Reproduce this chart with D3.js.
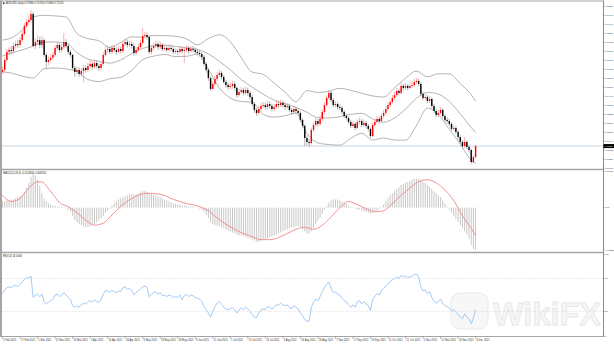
<!DOCTYPE html>
<html>
<head>
<meta charset="utf-8">
<script src="https://cdn.jsdelivr.net/npm/d3@7"></script>
<style>
  html, body { margin: 0; padding: 0; background: #fff; }
  svg { display: block; font-family: "Liberation Sans", Arial, sans-serif; }
</style>
</head>
<body>
<div id="plot"></div>
<script>
// daily candles, AUDUSD
const open = [0.7600,0.7612,0.7678,0.7731,0.7744,0.7737,0.7770,0.7783,0.7777,0.7809,
  0.7849,0.7902,0.7928,0.7941,0.7981,0.7770,0.7796,0.7809,0.7777,0.7809,
  0.7711,0.7665,0.7678,0.7692,0.7711,0.7757,0.7777,0.7744,0.7763,0.7796,
  0.7770,0.7731,0.7711,0.7625,0.7599,0.7612,0.7586,0.7605,0.7625,0.7612,
  0.7638,0.7652,0.7632,0.7658,0.7638,0.7625,0.7652,0.7711,0.7744,0.7750,
  0.7731,0.7757,0.7744,0.7731,0.7750,0.7737,0.7783,0.7796,0.7777,0.7783,
  0.7770,0.7724,0.7744,0.7763,0.7790,0.7836,0.7842,0.7829,0.7731,0.7757,
  0.7770,0.7783,0.7763,0.7777,0.7750,0.7757,0.7744,0.7757,0.7750,0.7731,
  0.7737,0.7731,0.7750,0.7737,0.7744,0.7757,0.7737,0.7750,0.7744,0.7731,
  0.7724,0.7717,0.7698,0.7652,0.7612,0.7559,0.7487,0.7520,0.7553,0.7579,
  0.7592,0.7566,0.7533,0.7513,0.7500,0.7507,0.7520,0.7494,0.7447,0.7467,
  0.7480,0.7461,0.7480,0.7461,0.7434,0.7388,0.7349,0.7329,0.7355,0.7375,
  0.7381,0.7368,0.7388,0.7375,0.7355,0.7368,0.7388,0.7381,0.7395,0.7381,
  0.7368,0.7375,0.7349,0.7336,0.7355,0.7342,0.7329,0.7283,0.7244,0.7164,
  0.7138,0.7131,0.7217,0.7250,0.7276,0.7257,0.7290,0.7336,0.7381,0.7428,
  0.7461,0.7414,0.7381,0.7388,0.7368,0.7362,0.7336,0.7309,0.7296,0.7270,
  0.7244,0.7257,0.7230,0.7270,0.7276,0.7250,0.7263,0.7244,0.7224,0.7177,
  0.7250,0.7270,0.7290,0.7276,0.7309,0.7329,0.7355,0.7381,0.7401,0.7428,
  0.7447,0.7474,0.7461,0.7507,0.7494,0.7507,0.7494,0.7507,0.7513,0.7533,
  0.7540,0.7520,0.7454,0.7428,0.7434,0.7408,0.7421,0.7375,0.7342,0.7316,
  0.7329,0.7349,0.7309,0.7283,0.7276,0.7257,0.7224,0.7230,0.7204,0.7170,
  0.7138,0.7111,0.7138,0.7105,0.7085,0.7006,0.7039];
const high = [0.7635,0.7695,0.7750,0.7765,0.7770,0.7790,0.7805,0.7810,0.7830,0.7865,
  0.7920,0.7950,0.7965,0.8007,0.7995,0.7820,0.7840,0.7830,0.7835,0.7820,
  0.7725,0.7700,0.7715,0.7730,0.7775,0.7800,0.7790,0.7785,0.7856,0.7815,
  0.7785,0.7745,0.7720,0.7640,0.7635,0.7630,0.7625,0.7645,0.7640,0.7660,
  0.7675,0.7668,0.7680,0.7675,0.7655,0.7670,0.7730,0.7765,0.7775,0.7765,
  0.7780,0.7775,0.7760,0.7770,0.7768,0.7800,0.7818,0.7812,0.7805,0.7800,
  0.7785,0.7765,0.7785,0.7810,0.7891,0.7865,0.7858,0.7840,0.7778,0.7792,
  0.7805,0.7798,0.7800,0.7790,0.7780,0.7772,0.7775,0.7778,0.7762,0.7755,
  0.7752,0.7770,0.7765,0.7762,0.7775,0.7770,0.7768,0.7770,0.7760,0.7750,
  0.7742,0.7730,0.7710,0.7665,0.7625,0.7570,0.7540,0.7572,0.7598,0.7615,
  0.7605,0.7580,0.7548,0.7530,0.7528,0.7540,0.7535,0.7505,0.7488,0.7500,
  0.7495,0.7502,0.7495,0.7475,0.7448,0.7400,0.7362,0.7375,0.7395,0.7402,
  0.7398,0.7410,0.7405,0.7390,0.7388,0.7410,0.7405,0.7418,0.7410,0.7398,
  0.7395,0.7390,0.7362,0.7375,0.7370,0.7358,0.7340,0.7295,0.7255,0.7180,
  0.7160,0.7232,0.7268,0.7295,0.7290,0.7310,0.7352,0.7398,0.7445,0.7480,
  0.7472,0.7428,0.7408,0.7400,0.7385,0.7375,0.7348,0.7325,0.7308,0.7282,
  0.7278,0.7270,0.7288,0.7298,0.7290,0.7285,0.7278,0.7258,0.7235,0.7265,
  0.7290,0.7310,0.7305,0.7328,0.7348,0.7375,0.7400,0.7420,0.7448,0.7468,
  0.7495,0.7490,0.7528,0.7522,0.7530,0.7520,0.7528,0.7535,0.7556,0.7560,
  0.7555,0.7530,0.7468,0.7455,0.7448,0.7440,0.7432,0.7388,0.7355,0.7348,
  0.7368,0.7360,0.7320,0.7298,0.7290,0.7270,0.7248,0.7242,0.7215,0.7182,
  0.7150,0.7170,0.7150,0.7118,0.7095,0.7055,0.7120];
const low = [0.7585,0.7600,0.7665,0.7712,0.7715,0.7720,0.7752,0.7755,0.7760,0.7795,
  0.7835,0.7885,0.7905,0.7925,0.7760,0.7750,0.7775,0.7755,0.7760,0.7700,
  0.7625,0.7645,0.7660,0.7675,0.7700,0.7740,0.7725,0.7730,0.7750,0.7755,
  0.7715,0.7695,0.7610,0.7566,0.7580,0.7565,0.7570,0.7533,0.7595,0.7600,
  0.7620,0.7615,0.7618,0.7622,0.7605,0.7610,0.7640,0.7700,0.7725,0.7715,
  0.7720,0.7728,0.7712,0.7718,0.7720,0.7725,0.7770,0.7760,0.7762,0.7752,
  0.7705,0.7710,0.7730,0.7750,0.7778,0.7820,0.7812,0.7718,0.7715,0.7740,
  0.7758,0.7745,0.7748,0.7735,0.7738,0.7728,0.7732,0.7735,0.7715,0.7718,
  0.7712,0.7720,0.7722,0.7658,0.7730,0.7720,0.7725,0.7728,0.7715,0.7708,
  0.7700,0.7680,0.7640,0.7595,0.7540,0.7474,0.7478,0.7508,0.7540,0.7565,
  0.7550,0.7520,0.7495,0.7482,0.7485,0.7490,0.7478,0.7430,0.7435,0.7452,
  0.7445,0.7448,0.7442,0.7418,0.7372,0.7330,0.7310,0.7315,0.7340,0.7360,
  0.7350,0.7352,0.7358,0.7340,0.7340,0.7355,0.7362,0.7368,0.7365,0.7350,
  0.7352,0.7335,0.7318,0.7322,0.7325,0.7312,0.7268,0.7228,0.7111,0.7115,
  0.7105,0.7120,0.7205,0.7238,0.7240,0.7245,0.7278,0.7325,0.7370,0.7415,
  0.7400,0.7365,0.7368,0.7350,0.7345,0.7320,0.7295,0.7280,0.7255,0.7228,
  0.7232,0.7215,0.7220,0.7255,0.7235,0.7238,0.7228,0.7208,0.7164,0.7170,
  0.7238,0.7258,0.7260,0.7265,0.7295,0.7318,0.7345,0.7368,0.7390,0.7415,
  0.7435,0.7445,0.7450,0.7478,0.7482,0.7478,0.7485,0.7492,0.7500,0.7520,
  0.7505,0.7440,0.7412,0.7415,0.7392,0.7395,0.7360,0.7328,0.7300,0.7302,
  0.7318,0.7295,0.7268,0.7260,0.7240,0.7210,0.7212,0.7190,0.7155,0.7122,
  0.7095,0.7100,0.7090,0.7068,0.6993,0.6998,0.7030];
const close = [0.7612,0.7678,0.7731,0.7744,0.7737,0.7770,0.7783,0.7777,0.7809,0.7849,
  0.7902,0.7928,0.7941,0.7981,0.7770,0.7796,0.7809,0.7777,0.7809,0.7711,
  0.7665,0.7678,0.7692,0.7711,0.7757,0.7777,0.7744,0.7763,0.7796,0.7770,
  0.7731,0.7711,0.7625,0.7599,0.7612,0.7586,0.7605,0.7625,0.7612,0.7638,
  0.7652,0.7632,0.7658,0.7638,0.7625,0.7652,0.7711,0.7744,0.7750,0.7731,
  0.7757,0.7744,0.7731,0.7750,0.7737,0.7783,0.7796,0.7777,0.7783,0.7770,
  0.7724,0.7744,0.7763,0.7790,0.7836,0.7842,0.7829,0.7731,0.7757,0.7770,
  0.7783,0.7763,0.7777,0.7750,0.7757,0.7744,0.7757,0.7750,0.7731,0.7737,
  0.7731,0.7750,0.7737,0.7744,0.7757,0.7737,0.7750,0.7744,0.7731,0.7724,
  0.7717,0.7698,0.7652,0.7612,0.7559,0.7487,0.7520,0.7553,0.7579,0.7592,
  0.7566,0.7533,0.7513,0.7500,0.7507,0.7520,0.7494,0.7447,0.7467,0.7480,
  0.7461,0.7480,0.7461,0.7434,0.7388,0.7349,0.7329,0.7355,0.7375,0.7381,
  0.7368,0.7388,0.7375,0.7355,0.7368,0.7388,0.7381,0.7395,0.7381,0.7368,
  0.7375,0.7349,0.7336,0.7355,0.7342,0.7329,0.7283,0.7244,0.7164,0.7138,
  0.7131,0.7217,0.7250,0.7276,0.7257,0.7290,0.7336,0.7381,0.7428,0.7461,
  0.7414,0.7381,0.7388,0.7368,0.7362,0.7336,0.7309,0.7296,0.7270,0.7244,
  0.7257,0.7230,0.7270,0.7276,0.7250,0.7263,0.7244,0.7224,0.7177,0.7250,
  0.7270,0.7290,0.7276,0.7309,0.7329,0.7355,0.7381,0.7401,0.7428,0.7447,
  0.7474,0.7461,0.7507,0.7494,0.7507,0.7494,0.7507,0.7513,0.7533,0.7540,
  0.7520,0.7454,0.7428,0.7434,0.7408,0.7421,0.7375,0.7342,0.7316,0.7329,
  0.7349,0.7309,0.7283,0.7276,0.7257,0.7224,0.7230,0.7204,0.7170,0.7138,
  0.7111,0.7138,0.7105,0.7085,0.7006,0.7039,0.7111];

// Bollinger bands (20, 2), read at these bars
const bbBars = [0,4,9,14,19,24,29,34,39,44,49,54,59,64,69,74,79,84,89,94,99,104,109,114,119,124,129,134,139,144,149,154,159,164,169,174,179,184,189,194,199,204,209,214,216];
const bbUpper = [0.7809,0.7823,0.7875,0.7961,0.7972,0.7968,0.7961,0.7852,0.7819,0.7804,0.7760,0.7793,0.7831,0.7827,0.7839,0.7838,0.7834,0.7817,0.7778,0.7819,0.7844,0.7799,0.7694,0.7598,0.7584,0.7526,0.7466,0.7403,0.7476,0.7464,0.7472,0.7491,0.7478,0.7459,0.7441,0.7434,0.7494,0.7558,0.7605,0.7567,0.7587,0.7586,0.7522,0.7449,0.7407];
const bbMiddle = [0.7704,0.7724,0.7744,0.7770,0.7796,0.7796,0.7789,0.7727,0.7684,0.7670,0.7657,0.7679,0.7721,0.7754,0.7771,0.7776,0.7767,0.7759,0.7748,0.7718,0.7669,0.7613,0.7549,0.7499,0.7452,0.7414,0.7389,0.7366,0.7334,0.7298,0.7296,0.7304,0.7320,0.7327,0.7290,0.7268,0.7296,0.7354,0.7426,0.7464,0.7453,0.7404,0.7323,0.7233,0.7201];
const bbLower = [0.7599,0.7592,0.7572,0.7559,0.7620,0.7625,0.7619,0.7601,0.7550,0.7536,0.7554,0.7564,0.7610,0.7680,0.7703,0.7714,0.7700,0.7702,0.7717,0.7617,0.7493,0.7428,0.7405,0.7400,0.7320,0.7302,0.7311,0.7329,0.7193,0.7132,0.7121,0.7117,0.7162,0.7195,0.7151,0.7164,0.7151,0.7150,0.7246,0.7361,0.7318,0.7222,0.7124,0.7017,0.6996];

// MACD (12,26,9): main histogram per bar, signal read at these bars
const macdMain = [0.0018,0.0018,0.0021,0.0021,0.0024,0.0024,0.0027,0.0030,0.0033,0.0036,
  0.0045,0.0057,0.0072,0.0090,0.0105,0.0093,0.0081,0.0063,0.0042,0.0027,
  0.0018,0.0012,0.0009,0.0006,0.0006,0.0003,0.0003,0.0003,0.0001,-0.0001,
  -0.0006,-0.0012,-0.0024,-0.0036,-0.0042,-0.0048,-0.0051,-0.0054,-0.0057,-0.0057,
  -0.0054,-0.0051,-0.0048,-0.0042,-0.0036,-0.0030,-0.0024,-0.0015,-0.0009,-0.0003,
  0.0006,0.0012,0.0018,0.0024,0.0027,0.0030,0.0033,0.0036,0.0039,0.0039,
  0.0039,0.0039,0.0042,0.0045,0.0048,0.0048,0.0045,0.0042,0.0042,0.0039,
  0.0036,0.0033,0.0030,0.0027,0.0024,0.0021,0.0018,0.0015,0.0012,0.0012,
  0.0009,0.0009,0.0006,0.0006,0.0006,0.0003,0.0003,0.0003,0.0001,-0.0001,
  -0.0003,-0.0006,-0.0012,-0.0021,-0.0030,-0.0042,-0.0048,-0.0051,-0.0054,-0.0054,
  -0.0057,-0.0060,-0.0063,-0.0066,-0.0069,-0.0072,-0.0075,-0.0078,-0.0081,-0.0081,
  -0.0084,-0.0084,-0.0087,-0.0090,-0.0093,-0.0096,-0.0099,-0.0099,-0.0096,-0.0093,
  -0.0093,-0.0090,-0.0087,-0.0084,-0.0081,-0.0078,-0.0075,-0.0072,-0.0069,-0.0066,
  -0.0063,-0.0060,-0.0057,-0.0057,-0.0054,-0.0054,-0.0057,-0.0063,-0.0069,-0.0075,
  -0.0075,-0.0069,-0.0060,-0.0048,-0.0039,-0.0030,-0.0018,-0.0006,0.0006,0.0015,
  0.0021,0.0024,0.0024,0.0024,0.0021,0.0018,0.0015,0.0012,0.0006,0.0003,
  0.0001,-0.0003,-0.0006,-0.0006,-0.0009,-0.0012,-0.0012,-0.0015,-0.0018,-0.0015,
  -0.0012,-0.0009,-0.0003,0.0003,0.0009,0.0018,0.0027,0.0036,0.0042,0.0048,
  0.0054,0.0060,0.0066,0.0069,0.0072,0.0075,0.0078,0.0081,0.0084,0.0084,
  0.0084,0.0081,0.0075,0.0072,0.0066,0.0060,0.0054,0.0048,0.0042,0.0036,
  0.0030,0.0021,0.0012,0.0003,-0.0006,-0.0015,-0.0024,-0.0033,-0.0042,-0.0051,
  -0.0060,-0.0069,-0.0078,-0.0090,-0.0108,-0.0120,-0.0123];
const signalBars = [0,4,8,12,16,18,20,23,26,30,34,38,42,46,50,55,60,66,72,78,84,90,94,98,102,106,110,114,118,122,126,130,134,138,142,146,150,154,158,162,166,170,174,178,182,186,190,194,198,202,206,210,214,216];
const macdSignal = [0.0036,0.0018,0.0027,0.0057,0.0075,0.0075,0.0063,0.0039,0.0015,0.0003,
  -0.0015,-0.0036,-0.0051,-0.0045,-0.0021,0.0009,0.0030,0.0042,0.0039,0.0024,
  0.0012,0.0003,-0.0009,-0.0030,-0.0048,-0.0063,-0.0075,-0.0084,-0.0093,-0.0093,
  -0.0087,-0.0075,-0.0063,-0.0057,-0.0063,-0.0051,-0.0027,0.0000,0.0018,0.0009,
  -0.0003,-0.0012,-0.0009,0.0012,0.0036,0.0057,0.0075,0.0081,0.0072,0.0051,
  0.0021,-0.0024,-0.0060,-0.0081];

// RSI (14)
const rsi = [52,56,59,60,59,61,62,60,63,66, 69,71,71,73,47,50,51,48,51,42,
  39,41,43,45,50,51,48,50,53,50, 47,45,37,35,37,35,38,40,39,42,
  43,41,44,42,41,44,51,55,55,53, 56,54,53,55,54,59,60,57,58,56,
  50,53,55,58,60,61,59,48,51,53, 54,51,53,49,50,48,50,49,47,48,
  47,50,44,49,51,48,50,49,47,46, 45,42,36,32,28,23,30,36,40,42,
  39,35,33,32,33,35,32,28,32,34, 32,35,33,30,26,23,22,28,32,33,
  32,36,35,33,35,38,38,40,38,37, 38,35,33,37,35,33,28,25,20,18,
  18,35,41,45,43,48,54,59,63,66, 58,53,54,51,50,46,43,42,38,35,
  38,35,42,43,39,42,39,37,31,45, 48,52,50,55,58,61,64,66,69,70,
  72,70,74,72,73,71,72,73,75,76, 72,60,55,56,52,54,47,43,40,42,
  45,40,37,36,34,31,32,29,26,23, 21,27,23,21,15,22,32];
const rsiLevels = [70, 30];
const rsiTicks = [100, 70, 30, 0];

// axis labels
const priceTicks = [0.80334,0.79741,0.79149,0.78556,0.77963,0.77371,0.76778,0.76185,0.75593,0.75000,
  0.74407,0.73815,0.73222,0.72629,0.72037,0.71444,0.70852,0.70259,0.69666];
const dateLabels = ["5 Feb 2021","17 Feb 2021","1 Mar 2021","11 Mar 2021","23 Mar 2021","2 Apr 2021",
  "14 Apr 2021","26 Apr 2021","6 May 2021","18 May 2021","28 May 2021","9 Jun 2021","21 Jun 2021",
  "1 Jul 2021","13 Jul 2021","23 Jul 2021","4 Aug 2021","16 Aug 2021","26 Aug 2021","7 Sep 2021",
  "17 Sep 2021","29 Sep 2021","11 Oct 2021","21 Oct 2021","2 Nov 2021","12 Nov 2021","24 Nov 2021","6 Dec 2021"];
const dateStep = 8;

const W = 614, H = 344;
const right = 603;
const fs = "2.6px";
const axisFs = "2.2px";
const frame = "#a4a4a4";

const svg = d3.select("div#plot")
              .append("svg")
              .attr("width", W)
              .attr("height", H);

const n = close.length;
const x = d3.scaleLinear().domain([0, n - 1]).range([2.5, 475.6]);
const yP = d3.scaleLinear().domain([0.69666, 0.80597]).range([168, 2]);
const yM = d3.scaleLinear().domain([d3.min(macdMain), d3.max(macdMain)]).range([250, 171.5]);
const yR = d3.scaleLinear().domain([0, 100]).range([336, 254]);

// watermark
const wm = svg.append("g");
wm.append("rect")
  .attr("x", 451).attr("y", 293).attr("width", 37).attr("height", 36).attr("rx", 9)
  .attr("fill", "#f7f7f7").attr("stroke", "#e9e9e9").attr("stroke-width", 1);
wm.append("text")
  .attr("x", 493).attr("y", 325)
  .attr("textLength", 108).attr("lengthAdjust", "spacingAndGlyphs")
  .attr("font-size", "32px").attr("font-weight", "bold")
  .attr("fill", "#f6f6f6").attr("stroke", "#e7e7e7").attr("stroke-width", 0.8)
  .text("WikiFX");

// current price line
svg.append("line")
   .attr("x1", 0).attr("x2", right)
   .attr("y1", yP(close[n - 1])).attr("y2", yP(close[n - 1]))
   .attr("stroke", "#c9d7e4").attr("stroke-width", 1);

// bollinger bands
const bandLine = arr => d3.line()
  .x((d, i) => x(bbBars[i]))
  .y(d => yP(d))
  .curve(d3.curveMonotoneX)(arr);
[bbUpper, bbMiddle, bbLower].forEach(b => {
  svg.append("path")
     .attr("d", bandLine(b))
     .attr("fill", "none")
     .attr("stroke", "#9a9a9a")
     .attr("stroke-width", 0.75);
});

// candles
const idx = d3.range(n);
const col = i => close[i] >= open[i] ? "#ff0000" : "#000000";
svg.selectAll("line.wick")
   .data(idx)
   .enter()
   .append("line")
   .attr("class", "wick")
   .attr("x1", i => x(i)).attr("x2", i => x(i))
   .attr("y1", i => yP(high[i])).attr("y2", i => yP(low[i]))
   .attr("stroke", i => close[i] >= open[i] ? "#f28080" : "#808080")
   .attr("stroke-width", 0.6);
svg.selectAll("rect.body")
   .data(idx)
   .enter()
   .append("rect")
   .attr("class", "body")
   .attr("x", i => x(i) - 0.7)
   .attr("width", 1.4)
   .attr("y", i => yP(Math.max(open[i], close[i])))
   .attr("height", i => Math.max(0.7, Math.abs(yP(open[i]) - yP(close[i]))))
   .attr("fill", col);

// macd histogram
svg.selectAll("rect.hist")
   .data(macdMain)
   .enter()
   .append("rect")
   .attr("class", "hist")
   .attr("x", (d, i) => x(i) - 0.5)
   .attr("width", 1)
   .attr("y", d => Math.min(yM(d), yM(0)))
   .attr("height", d => Math.abs(yM(d) - yM(0)))
   .attr("fill", "#c8c8c8");
svg.append("path")
   .attr("d", d3.line()
     .x((d, i) => x(signalBars[i]))
     .y(d => yM(d))
     .curve(d3.curveMonotoneX)(macdSignal))
   .attr("fill", "none")
   .attr("stroke", "#f58585")
   .attr("stroke-width", 0.9);

// rsi
rsiLevels.forEach(v => {
  svg.append("line")
     .attr("x1", 2).attr("x2", right)
     .attr("y1", yR(v)).attr("y2", yR(v))
     .attr("stroke", "#d2d2d2").attr("stroke-width", 0.6)
     .attr("stroke-dasharray", "1.2,1.2");
});
svg.append("path")
   .attr("d", d3.line().x((d, i) => x(i)).y(d => yR(d))(rsi))
   .attr("fill", "none")
   .attr("stroke", "#98c3f2")
   .attr("stroke-width", 0.9);

// frame
const hline = (y, w) => svg.append("line").attr("x1", 0).attr("x2", right)
  .attr("y1", y).attr("y2", y).attr("stroke", frame).attr("stroke-width", w);
hline(1, 1);
hline(169.5, 1.6);
hline(252.5, 1.6);
hline(336.5, 1);
svg.append("line").attr("x1", 1).attr("x2", 1).attr("y1", 0.5).attr("y2", 337)
   .attr("stroke", frame).attr("stroke-width", 2);
svg.append("line").attr("x1", right + 0.5).attr("x2", right + 0.5).attr("y1", 0.5).attr("y2", 337)
   .attr("stroke", "#8c8c8c").attr("stroke-width", 1);

// right axes
const axisText = (y, t) => {
  svg.append("line").attr("x1", right).attr("x2", right + 1.8)
     .attr("y1", y).attr("y2", y).attr("stroke", "#777").attr("stroke-width", 0.5);
  const tx = svg.append("text").attr("x", right + 2.2).attr("y", y + 0.8)
     .attr("font-size", axisFs).attr("fill", "#333").text(t);
  if (t.length > 7) tx.attr("textLength", 9.2).attr("lengthAdjust", "spacingAndGlyphs");
};
priceTicks.forEach(p => axisText(yP(p), p.toFixed(5)));
axisText(yM(d3.max(macdMain)), d3.max(macdMain).toFixed(5));
axisText(yM(0), "0.00");
axisText(yM(d3.min(macdMain)), d3.min(macdMain).toFixed(5));
rsiTicks.forEach(v => axisText(yR(v), String(v)));

// current price tag
const cy = yP(close[n - 1]);
svg.append("rect").attr("x", right + 0.5).attr("y", cy - 2).attr("width", W - right - 0.5).attr("height", 4)
   .attr("fill", "#000");
svg.append("text").attr("x", right + 2.2).attr("y", cy + 0.8)
   .attr("font-size", axisFs).attr("fill", "#fff").text(close[n - 1].toFixed(5));

// date labels
dateLabels.forEach((t, k) => {
  const xx = x(k * dateStep);
  svg.append("line").attr("x1", xx).attr("x2", xx).attr("y1", 336.5).attr("y2", 339)
     .attr("stroke", "#777").attr("stroke-width", 0.5);
  svg.append("text").attr("x", xx + 0.8).attr("y", 340.6)
     .attr("font-size", fs).attr("fill", "#333").text(t);
});

// window titles
svg.append("path").attr("d", "M2.5,2.6 L5,2.6 L3.75,4.4 Z").attr("fill", "#222");
svg.append("text").attr("x", 6).attr("y", 4.4).attr("font-size", fs).attr("fill", "#222")
   .text("AUDUSD,Daily  " + [open[n - 1], high[n - 1], low[n - 1], close[n - 1]].map(v => v.toFixed(5)).join(" "));
svg.append("text").attr("x", 3).attr("y", 173.6).attr("font-size", fs).attr("fill", "#222")
   .text("MACD(12,26,9) " + macdMain[n - 1].toFixed(6) + " " + macdSignal[macdSignal.length - 1].toFixed(6));
svg.append("text").attr("x", 3).attr("y", 257.4).attr("font-size", fs).attr("fill", "#222")
   .text("RSI(14) " + rsi[n - 1].toFixed(4));
</script>
</body>
</html>
